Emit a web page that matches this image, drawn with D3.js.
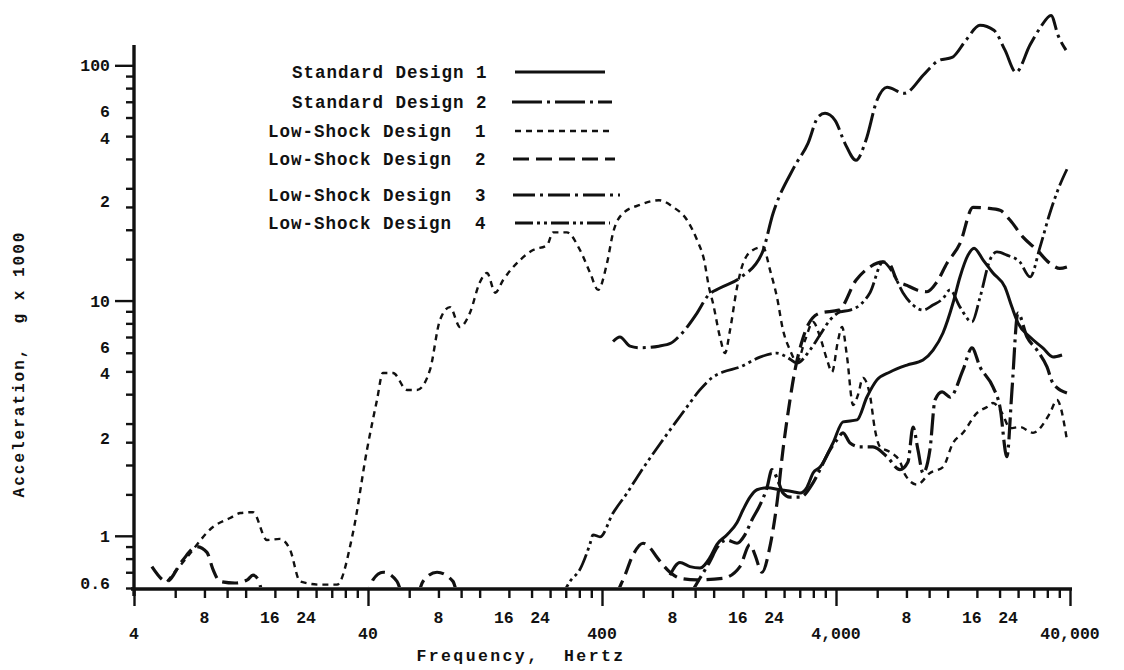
<!DOCTYPE html>
<html><head><meta charset="utf-8">
<script src="https://cdn.jsdelivr.net/npm/d3@7"></script>
<style>
body{margin:0;background:#fff}
svg{display:block;background:#fff}
text{font-family:"Liberation Mono","DejaVu Sans Mono",monospace;font-weight:bold;fill:#111}
</style>
</head><body>
<svg id="chart" width="1124" height="670"></svg>
<script>
// ---------------- data ----------------
const seriesNames = ["Standard Design 1","Standard Design 2","Low-Shock Design  1","Low-Shock Design  2","Low-Shock Design  3","Low-Shock Design  4"];

const sd1Freq = [781,861,950,1049,1158,1240,1369,1511,1603,1716,1838,2028,2307,2620,2807,3007,3192,3420,3883,4287,4921,5423,5985,6808,8041,9417,10400,11460,12650,13550,14660,15560,16990,18750,21100,22590,23990,26980,30680,33830,36980];
const sd1Acc  = [0.68,0.77,0.74,0.73,0.81,0.92,1.01,1.14,1.29,1.46,1.57,1.60,1.57,1.54,1.52,1.61,1.85,1.96,2.48,3.05,3.11,3.89,4.60,4.97,5.32,5.59,6.16,7.28,9.76,12.6,15.6,16.7,14.9,13.1,11.4,9.38,8.02,7.0,6.28,5.76,5.87];

const sd2Freq = [446,477,527,581,700,790,860,1019,1135,1277,1556,1932,2154,2649,3036,3350,3590,3963,4368,4870,5370,5985,6608,7813,9600,11020,12530,14380,16490,18920,21100,23500,26980,29780,33190,35570,38450];
const sd2Acc  = [6.7,7.0,6.4,6.3,6.4,6.6,7.1,8.85,10.5,11.3,12.5,15.9,23.5,36.9,46.6,60.2,62.5,58.4,46.6,39.5,48.0,71.0,80.7,76.0,92.5,105,108,128,148,141,116,93.4,122,144,163,134,116];

const ls1Freq = [5.54,6.74,8.70,10.3,11.4,12.9,14.8,16.8,18.6,20.5,24.9,29.5,34.5,39.6,43.7,46.3,51.2,58.7,64.8,73.6,81.2,89.6,98.9,109,120,129,140,151,179,203,233,247,283,322,356,385,420,446,492,581,701,804,923,1019,1092,1146,1192,1277,1342,1410,1511,1603,1767,1950,2089,2239,2375,2544,2725,2951,3192,3420,3665,3845,4084,4247,4459,4732,4966,5212,5584,5871,6163,6808,7518,7893,8880,10090,11460,12650,13960,16030,17680,18750,20480,22180,24450,27790,32870,35170,38810];
const ls1Acc  = [0.64,0.81,1.09,1.19,1.25,1.26,0.96,0.97,0.87,0.64,0.62,0.62,1.03,2.32,3.78,4.92,4.92,4.17,4.17,5.07,8.26,9.38,7.72,8.85,11.9,13.1,10.8,12.2,14.9,16.4,17.2,19.5,19.5,16.4,13.1,11.1,14.4,19.4,23.5,25.5,26.7,25.0,22.0,18.1,14.9,11.4,9.76,7.0,5.98,7.49,11.4,14.4,16.4,16.9,13.5,10.3,7.49,6.16,5.48,6.79,8.11,7.0,5.59,4.97,6.79,7.72,5.76,3.60,3.97,4.69,3.97,2.82,2.39,2.27,2.06,1.82,1.65,1.85,1.96,2.48,2.74,3.33,3.53,3.67,3.33,2.87,2.90,2.74,3.33,3.78,2.56];

const ls2Freq = [4.77,5.53,6.41,7.43,8.20,8.70,9.32,10.8,12.2,12.9,13.6,14.5,38.8,42,46.4,53.2,57.6,63.5,68.7,78.9,92.3,98.8,433,492,543,599,641,687,781,862,1018,1315,1555,1716,1802,1930,2088,2238,2374,2543,2672,2832,3036,3415,4119,4868,5588,6352,6804,7288,8044,8876,9792,10800,11920,13560,15400,17680,20080,22160,25200,28900,32800,36200,38800];
const ls2Acc  = [0.74,0.64,0.78,0.90,0.85,0.72,0.64,0.63,0.65,0.68,0.65,0.53,0.53,0.65,0.70,0.64,0.53,0.53,0.64,0.70,0.64,0.53,0.53,0.65,0.83,0.93,0.89,0.81,0.70,0.66,0.65,0.66,0.74,0.92,0.83,0.70,0.90,1.38,2.32,3.78,5.07,6.47,7.87,8.85,9.11,12.2,13.9,14.6,14.2,12.2,11.6,11.1,10.9,12.0,14.4,17.5,24.9,24.7,24.2,22.0,18.6,16.4,14.4,13.7,13.9];

const ls3Freq = [951,1048,1158,1240,1368,1510,1632,1750,1892,2028,2130,2238,2374,2543,2806,3190,3415,3768,4040,4284,4592,5064,5756,6604,7504,8120,8536,8960,9416,10080,10600,11360,12280,13960,15240,16500,18760,20080,21500,22600,23960,26200,28900,31900,33800,38800];
const ls3Acc  = [0.56,0.66,0.78,0.89,0.96,0.93,1.01,1.17,1.35,1.60,1.91,1.76,1.52,1.46,1.46,1.68,1.91,2.32,2.56,2.74,2.48,2.39,2.39,2.17,1.91,2.06,2.90,2.32,1.85,2.32,3.78,4.09,3.89,5.07,6.29,5.22,4.29,3.53,2.17,4.17,8.85,7.0,6.16,5.22,4.46,4.05];

const ls4Freq = [264,292,322,355,366,392,446,512,581,729,923,1048,1192,1315,1555,1892,2238,2469,2724,3096,3415,3768,4160,4592,5064,5588,6352,7008,7728,8536,9416,10380,11460,12280,13560,15240,16500,18200,19500,21500,24400,27000,29800,32800,35500,39200];
const ls4Acc  = [0.53,0.64,0.72,0.92,1.01,0.99,1.25,1.52,1.85,2.56,3.53,4.17,4.73,4.97,5.22,5.75,5.98,5.75,5.43,6.16,7.14,8.26,8.94,9.11,9.57,10.8,14.6,13.1,10.8,9.57,9.11,9.57,10.2,11.1,9.38,8.11,10.3,14.9,16.1,15.6,14.6,12.6,16.9,23.5,29.5,36.9];

// tick values and labels
const xMinorTicks = [6,8,10,12,16,20,24,28,32,36,60,80,100,120,160,200,240,280,320,360,600,800,1000,1200,1600,2000,2400,2800,3200,3600,6000,8000,10000,12000,16000,20000,24000,28000,32000,36000];
const xMajorTicks = [4,40,400,4000,40000];
const xLabelValues = [4,8,16,24,40,80,160,240,400,800,1600,2400,4000,8000,16000,24000,40000];
const xLabelTexts  = ["4","8","16","24","40","8","16","24","400","8","16","24","4,000","8","16","24","40,000"];
const yMinorTicks = [0.6,0.7,0.8,0.9,1.5,2,2.5,3,4,5,6,7,8,9,15,20,25,30,40,50,60,70,80,90];
const yMajorTicks = [1,10,100];
const yLabelTexts = ["0.6","1","2","4","6","10","2","4","6","100"];
const yLabelAt    = [0.63,1,2.6,4.9,6.35,10,26.5,49,64,100];

// ---------------- drawing ----------------
const svg = d3.select("#chart");
const x = d3.scaleLog().domain([4,40000]).range([134,1070]);
const y = d3.scaleLog().domain([0.6,122]).range([588,45]);

svg.append("defs").append("clipPath").attr("id","plotclip")
  .append("rect").attr("x",134).attr("y",0).attr("width",950).attr("height",587);

const styles = [
  {w:3.0, dash:null},
  {w:3.0, dash:"30,5,3,5"},
  {w:2.4, dash:"6,5"},
  {w:3.2, dash:"16,7"},
  {w:3.2, dash:"22,5,3,5"},
  {w:2.8, dash:"18,4,3,4,3,4"}
];
const allSeries = [
  [sd1Freq,sd1Acc],[sd2Freq,sd2Acc],[ls1Freq,ls1Acc],
  [ls2Freq,ls2Acc],[ls3Freq,ls3Acc],[ls4Freq,ls4Acc]
];
const line = d3.line().x(d=>x(d[0])).y(d=>y(d[1])).curve(d3.curveMonotoneX);

const plot = svg.append("g").attr("clip-path","url(#plotclip)");
allSeries.forEach((s,i)=>{
  const pts = s[0].map((f,j)=>[f,s[1][j]]);
  plot.append("path").datum(pts).attr("d",line)
    .attr("fill","none").attr("stroke","#111")
    .attr("stroke-width",styles[i].w)
    .attr("stroke-dasharray",styles[i].dash)
    .attr("stroke-linejoin","round");
});

// axes
function styleAxis(g){
  g.select(".domain").remove();
  g.selectAll(".tick line").attr("stroke","#111").attr("stroke-width",2.4);
  g.selectAll(".tick text").remove();
}
svg.append("g").attr("transform","translate(134,0)")
  .call(d3.axisLeft(y).tickValues(yMinorTicks).tickSize(8).tickFormat("")).call(styleAxis);
svg.append("g").attr("transform","translate(134,0)")
  .call(d3.axisLeft(y).tickValues(yMajorTicks).tickSize(19).tickFormat("")).call(styleAxis);
svg.append("g").attr("transform","translate(0,589)")
  .call(d3.axisBottom(x).tickValues(xMinorTicks).tickSize(9).tickFormat("")).call(styleAxis);
svg.append("g").attr("transform","translate(0,589)")
  .call(d3.axisBottom(x).tickValues(xMajorTicks).tickSize(17).tickFormat("")).call(styleAxis);

svg.append("line").attr("x1",134).attr("x2",134).attr("y1",y(122)).attr("y2",596)
  .attr("stroke","#111").attr("stroke-width",3.4);
svg.append("line").attr("x1",131).attr("x2",1072).attr("y1",589).attr("y2",589)
  .attr("stroke","#111").attr("stroke-width",3.6);

// y labels
yLabelTexts.forEach((t,i)=>{
  svg.append("text").attr("x",110).attr("y",y(yLabelAt[i])+6)
    .attr("text-anchor","end").attr("font-size",16.5).text(t);
});
// x labels
xLabelValues.forEach((v,i)=>{
  const decade = xMajorTicks.includes(v);
  const t = xLabelTexts[i];
  const dx = t==="24" ? -10 : (t==="16" ? -5 : 0);
  svg.append("text").attr("x",x(v)+dx).attr("y",decade?639:623)
    .attr("text-anchor","middle").attr("font-size",16.5).text(t);
});

// axis titles
svg.append("text").attr("x",521).attr("y",661).attr("text-anchor","middle")
  .attr("font-size",16.5).style("white-space","pre").attr("letter-spacing",2.4)
  .text("Frequency,  Hertz");
svg.append("text").attr("transform","translate(24,364) rotate(-90)")
  .attr("text-anchor","middle").attr("font-size",16).style("white-space","pre")
  .attr("letter-spacing",2).text("Acceleration,  g x 1000");

// legend
const legendTextX = [292,292,268,268,268,268];
const legendRowY  = [72,102,131,159,195,223];
const legendLine  = [[515,605],[512,612],[515,610],[513,615],[513,620],[515,610]];
seriesNames.forEach((n,i)=>{
  svg.append("text").attr("x",legendTextX[i]).attr("y",legendRowY[i]+6)
    .attr("font-size",17.5).attr("letter-spacing",1.0).style("white-space","pre").text(n);
  svg.append("line").attr("x1",legendLine[i][0]).attr("x2",legendLine[i][1])
    .attr("y1",legendRowY[i]).attr("y2",legendRowY[i])
    .attr("stroke","#111").attr("stroke-width",styles[i].w)
    .attr("stroke-dasharray",styles[i].dash);
});
</script>
</body></html>
